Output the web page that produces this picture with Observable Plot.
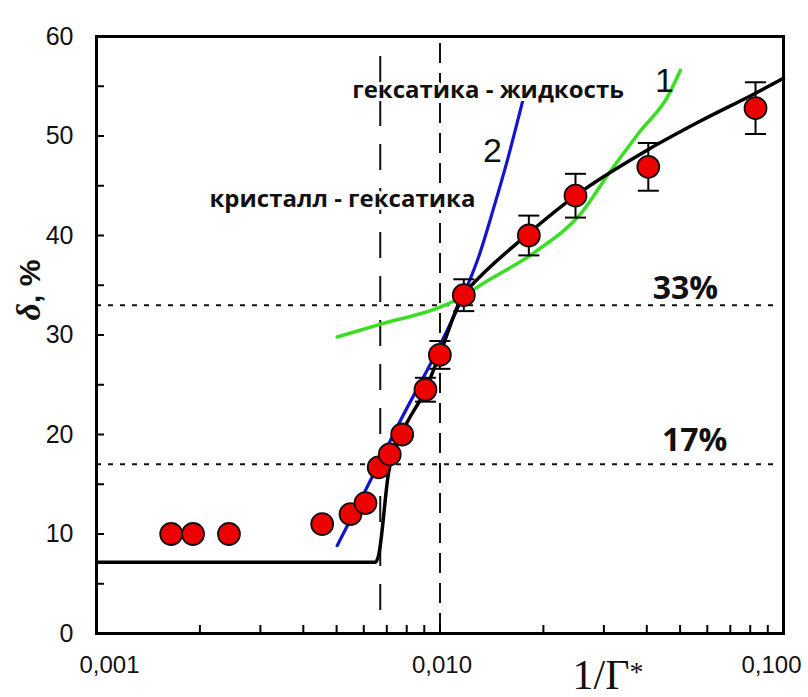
<!DOCTYPE html>
<html><head><meta charset="utf-8">
<script src="https://cdn.jsdelivr.net/npm/d3@7"></script>
<script src="https://cdn.jsdelivr.net/npm/@observablehq/plot@0.6"></script>
<style>body{margin:0;background:#fff;overflow:hidden} svg{display:block}</style>
</head><body><div id="chart"></div>
<script>
// Experimental points (1/Γ*, δ %)
const pointX = [0.00165, 0.00191, 0.00243, 0.00454, 0.00549, 0.00607, 0.00663, 0.00714, 0.00776, 0.00907, 0.00999, 0.01173, 0.01814, 0.0248, 0.0404, 0.0829];
const pointY = [10, 10, 10, 11, 12, 13.1, 16.7, 18, 20, 24.5, 28, 34, 40, 44, 46.9, 52.8];
const pointErr = [0, 0, 0, 0, 0, 0, 0, 0, 0, 1.2, 1.4, 1.6, 2.0, 2.2, 2.4, 2.6];

// Black fit curve
const blackX = [0.001, 0.00649, 0.00662, 0.00708, 0.00773, 0.00907, 0.00997, 0.01171, 0.01252, 0.0181, 0.0248, 0.0402, 0.0573, 0.0829, 0.1];
const blackY = [7.15, 7.15, 7.8, 16.1, 20.0, 24.5, 28.0, 34.1, 35.2, 40.2, 44.0, 48.6, 51.5, 54.3, 55.8];

// Curve 2 (blue)
const blueX = [0.00502, 0.00607, 0.00767, 0.00997, 0.0117, 0.0130, 0.01434, 0.01569, 0.01746];
const blueY = [8.84, 14.4, 21.4, 28.9, 34.0, 38.0, 42.8, 47.5, 53.7];

// Curve 1 (green)
const greenX = [0.00502, 0.00672, 0.0100, 0.0117, 0.0131, 0.0192, 0.0257, 0.0314, 0.0383, 0.0459, 0.0501];
const greenY = [29.8, 31.1, 32.8, 33.9, 35.0, 38.5, 42.2, 46.5, 50.5, 53.9, 56.6];

// Reference levels and transitions
const levels = [33, 17];
const levelLabels = ["33%", "17%"];
const levelLabelX = [0.0518, 0.0551];
const levelLabelY = [34.6, 19.4];
const transitionX = [0.0067, 0.01];
const transitionY1 = [2.3, 0];
const transitionY2 = [58.9, 60];

const phaseLabels = ["гексатика - жидкость", "кристалл - гексатика"];
const phaseLabelX = [0.0138, 0.0052];
const phaseLabelY = [54.6, 43.6];

const curveLabels = ["1", "2"];
const curveLabelX = [0.0450, 0.01421];
const curveLabelY = [55.5, 48.5];

// Axes
const yTickValues = [0, 5, 10, 15, 20, 25, 30, 35, 40, 45, 50, 55, 60];
const yLabelValues = [0, 10, 20, 30, 40, 50, 60];
const xTickValues = [0.002, 0.003, 0.004, 0.005, 0.006, 0.007, 0.008, 0.009, 0.01, 0.02, 0.03, 0.04, 0.05, 0.06, 0.07, 0.08, 0.09];
const xLabelValues = [0.001, 0.01, 0.1];
const xLabels = ["0,001", "0,010", "0,100"];

const points = pointX.map((x, i) => ({x, y: pointY[i], e: pointErr[i]}));
const bars = points.filter(d => d.e > 0);
const caps = bars.flatMap(d => [{x: d.x, y: d.y - d.e}, {x: d.x, y: d.y + d.e}]);
const black = blackX.map((x, i) => ({x, y: blackY[i]}));
const blue = blueX.map((x, i) => ({x, y: blueY[i]}));
const green = greenX.map((x, i) => ({x, y: greenY[i]}));
const levelText = levelLabels.map((t, i) => ({t, x: levelLabelX[i], y: levelLabelY[i]}));
const phaseText = phaseLabels.map((t, i) => ({t, x: phaseLabelX[i], y: phaseLabelY[i]}));
const curveText = curveLabels.map((t, i) => ({t, x: curveLabelX[i], y: curveLabelY[i]}));
const transitions = transitionX.map((x, i) => ({x, y1: transitionY1[i], y2: transitionY2[i]}));
const xLabelData = xLabelValues.map((x, i) => ({x, t: xLabels[i]}));

const capSymbol = {draw(ctx, size) { const h = Math.sqrt(size / Math.PI); ctx.moveTo(-h, 0); ctx.lineTo(h, 0); }};

const W = 808, H = 697, ML = 96, MR = 25, MT = 36, MB = 64;
const innerW = W - ML - MR, innerH = H - MT - MB;
const sans = "'Liberation Sans', Arial, sans-serif";
const xLabelShift = [13, 2, -12];
const xLabelStyle = {x: "x", text: "t", frameAnchor: "bottom", lineAnchor: "middle", dy: 32, fontSize: 24, fill: "#111", fontFamily: sans};

const chart = Plot.plot({
  width: W, height: H,
  marginLeft: ML, marginRight: MR, marginTop: MT, marginBottom: MB,
  x: {type: "log", domain: [0.001, 0.1], axis: null},
  y: {domain: [0, 60], axis: null},
  style: {fontFamily: sans, background: "white", color: "#111"},
  marks: [
    Plot.ruleY(levels, {y: d => d, stroke: "#111", strokeWidth: 2, strokeDasharray: "5,7", insetRight: 6}),
    Plot.ruleX([transitions[0]], {x: "x", y1: "y1", y2: "y2", stroke: "#111", strokeWidth: 2, strokeDasharray: "26,18"}),
    Plot.ruleX([transitions[1]], {x: "x", y1: "y1", y2: "y2", stroke: "#111", strokeWidth: 2, strokeDasharray: "20,10"}),
    Plot.line(green, {x: "x", y: "y", stroke: "#3ade22", strokeWidth: 3.5, curve: "monotone-x"}),
    Plot.line(blue, {x: "x", y: "y", stroke: "#1414cc", strokeWidth: 3.2, curve: "monotone-x"}),
    Plot.line(black, {x: "x", y: "y", stroke: "#000", strokeWidth: 3.5, curve: "monotone-x"}),
    Plot.ruleX(bars, {x: "x", y1: d => d.y - d.e, y2: d => d.y + d.e, stroke: "#000", strokeWidth: 2}),
    Plot.dot(caps, {x: "x", y: "y", symbol: capSymbol, r: 10.5, fill: "none", stroke: "#000", strokeWidth: 2}),
    Plot.dot(points, {x: "x", y: "y", r: 11, fill: "#ee0000", stroke: "#111", strokeWidth: 1.8}),
    Plot.tickY(yTickValues, {y: d => d, insetRight: innerW - 8, stroke: "#000", strokeWidth: 2}),
    Plot.tickX(xTickValues, {x: d => d, insetTop: innerH - 8, stroke: "#000", strokeWidth: 2}),
    Plot.frame({stroke: "#000", strokeWidth: 3}),
    Plot.axisY({ticks: yLabelValues, tickSize: 0, tickPadding: 23, fontSize: 25, label: null}),
    ...xLabelData.map((d, i) => Plot.text([d], {...xLabelStyle, dx: xLabelShift[i]})),
    Plot.text(phaseText, {x: "x", y: "y", text: "t", fontFamily: "'Open Sans', sans-serif", fontWeight: "bold", fontSize: 24, fill: "#111", stroke: "white", strokeWidth: 6, paintOrder: "stroke"}),
    Plot.text(levelText, {x: "x", y: "y", text: "t", fontFamily: "'Open Sans', sans-serif", fontWeight: "bold", fontSize: 32, fill: "#111"}),
    Plot.text(curveText, {x: "x", y: "y", text: "t", fontFamily: sans, fontSize: 34, fill: "#111"}),
    Plot.text(["δ, %"], {text: d => d, frameAnchor: "left", textAnchor: "middle", dx: -66, dy: -45, rotate: -90, fontSize: 30, fontWeight: "bold", fill: "#111", fontFamily: sans}),
    Plot.text(["1/Γ*"], {text: d => d, frameAnchor: "bottom", lineAnchor: "middle", dx: 168, dy: 42, fontSize: 42, fill: "#111", fontFamily: "'Liberation Serif', 'Times New Roman', serif"})
  ]
});

// Style parts of axis titles
d3.select(chart).selectAll("text").each(function() {
  const t = this.textContent;
  if (t === "δ, %") {
    const el = d3.select(this); el.text("");
    el.append("tspan").attr("font-style", "italic").attr("font-family", "'Liberation Serif', serif").attr("font-size", 34).text("δ");
    el.append("tspan").text(", %");
  } else if (t === "1/Γ*") {
    const el = d3.select(this); el.text("");
    el.append("tspan").text("1/Γ");
    el.append("tspan").attr("font-size", 28).attr("dy", "-0.3em").text("*");
  }
});

document.getElementById("chart").appendChild(chart);
</script></body></html>
